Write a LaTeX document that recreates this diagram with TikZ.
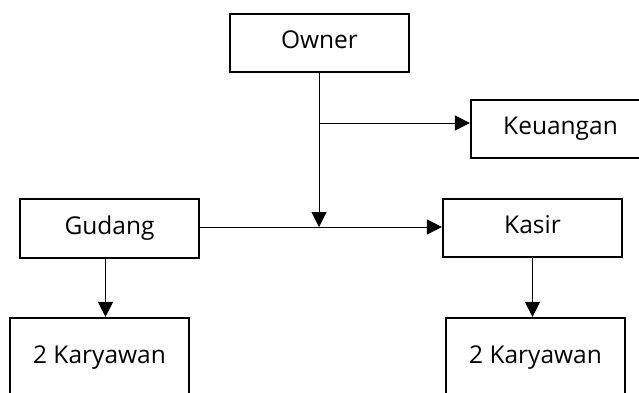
\documentclass[tikz,border=0pt]{standalone}
\usepackage{fontspec}
\setmainfont{Open Sans}
\usetikzlibrary{arrows.meta}
\begin{document}
\begin{tikzpicture}[x=1pt,y=-1pt,
  unit/.style={draw=black,line width=2.2pt,rectangle,minimum width=179pt,minimum height=58pt,
    inner sep=0pt,text height=17.6pt,text depth=6.1pt,font=\fontsize{24.5}{28}\selectfont},
  link/.style={line width=1pt,-{Triangle[length=15pt,width=15pt]}}]
\useasboundingbox (0,0) rectangle (639,393);
\clip (0,0) rectangle (639,393);
% units of the organisation
\node[unit] (owner) at (319.5,43) {Owner};
\node[unit] (keu) at (560.5,129) {Keuangan};
\node[unit,minimum height=59pt] (gudang) at (109.5,228.5) {Gudang};
\node[unit] (kasir) at (532.5,228) {Kasir};
\node[unit,minimum height=80pt] (kl) at (99.5,358) {2 Karyawan};
\node[unit,minimum height=80pt] (kr) at (535.5,358) {2 Karyawan};
% junction points on the trunk below the owner
\coordinate (tap) at (319,123);
\coordinate (meet) at (319,227);
\coordinate (gdown) at (105.5,259);
% connectors
\draw[link] (owner.south -| meet) -- (meet);
\draw[link] (tap) -- (tap -| keu.west);
\draw[link] (gudang.east |- meet) -- (kasir.west |- meet);
\draw[link] (gdown) -- (gdown |- kl.north);
\draw[link] (kasir.south) -- (kasir.south |- kr.north);
\end{tikzpicture}
\end{document}
